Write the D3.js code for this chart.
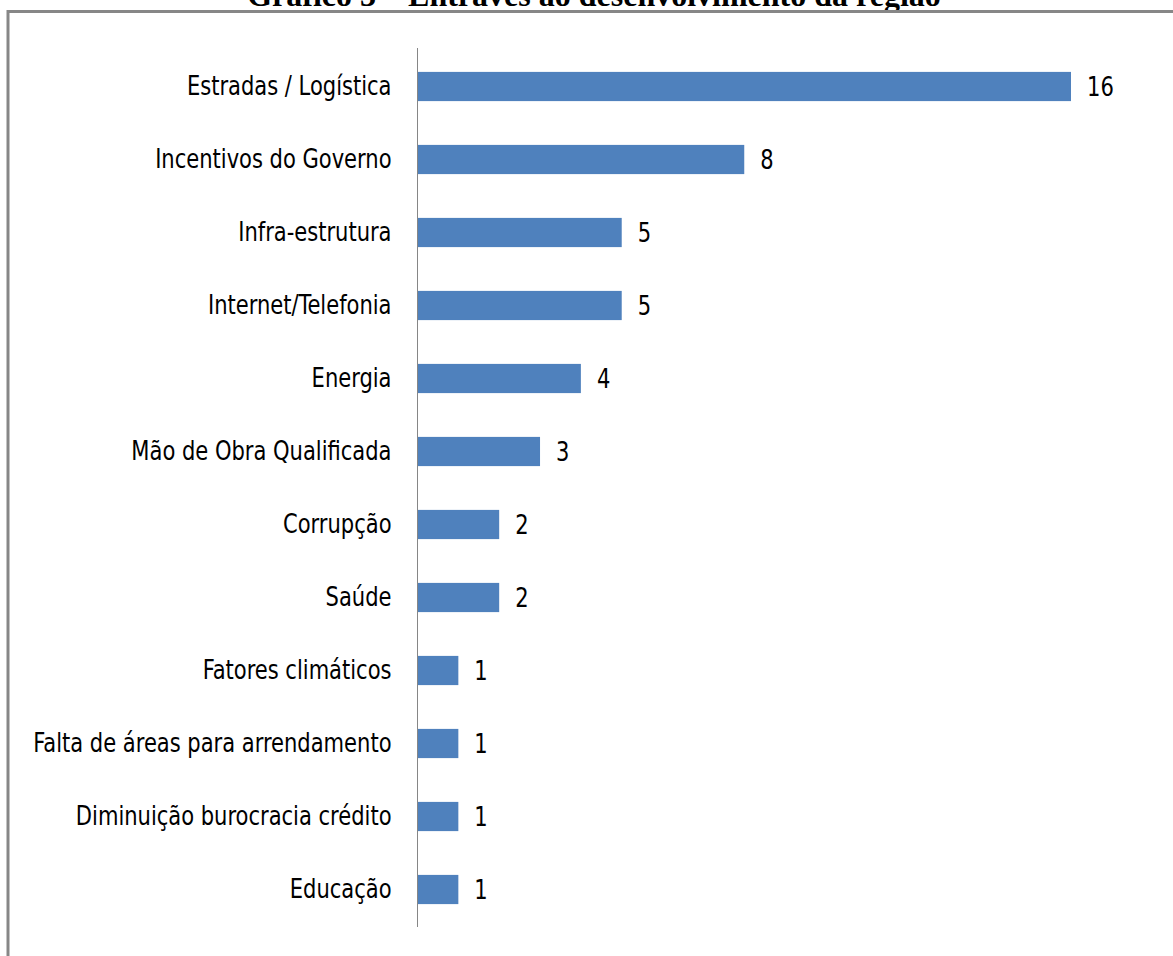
<!DOCTYPE html>
<html>
<head>
<meta charset="utf-8">
<script src="https://cdn.jsdelivr.net/npm/d3@7"></script>
<style>
  html, body { margin: 0; padding: 0; background: #fff; }
  svg { display: block; }
</style>
</head>
<body>
<svg id="chart" width="1173" height="956"></svg>
<script>
var categories = [
    "Estradas / Logística",
    "Incentivos do Governo",
    "Infra-estrutura",
    "Internet/Telefonia",
    "Energia",
    "Mão de Obra Qualificada",
    "Corrupção",
    "Saúde",
    "Fatores climáticos",
    "Falta de áreas para arrendamento",
    "Diminuição burocracia crédito",
    "Educação"
];
var values = [16, 8, 5, 5, 4, 3, 2, 2, 1, 1, 1, 1];
var title = "Gráfico 3 – Entraves ao desenvolvimento da região";

var svg = d3.select("#chart");
var labelFont = "'Liberation Sans Narrow', 'DejaVu Sans Condensed', 'Arial Narrow', sans-serif";
var squeeze = 0.9; // labels are drawn narrow in the original

// title, cut by the top of the page
svg.append("text")
    .attr("x", 594)
    .attr("y", 6)
    .attr("text-anchor", "middle")
    .style("font-family", "'Liberation Serif', 'Times New Roman', serif")
    .style("font-weight", "bold")
    .style("font-size", "32px")
    .text(title);

// chart frame (only top and left show)
svg.append("path")
    .attr("d", "M8,970 L8,11.5 L1190,11.5")
    .attr("fill", "none")
    .attr("stroke", "#878787")
    .attr("stroke-width", 3);

var data = categories.map(function(c, i){ return {name: c, value: values[i]}; });

var x = d3.scaleLinear()
    .domain([0, 16])
    .range([417.5, 1071]);

var y = d3.scaleBand()
    .domain(categories)
    .range([50, 926])
    .paddingInner(0.6)
    .paddingOuter(0.3);

svg.selectAll(".bar")
    .data(data)
    .enter()
    .append("rect")
    .attr("class", "bar")
    .attr("x", x(0))
    .attr("y", function(d){ return y(d.name); })
    .attr("width", function(d){ return x(d.value) - x(0); })
    .attr("height", y.bandwidth())
    .attr("fill", "#4f81bd");

// category axis
var yAxis = d3.axisLeft(y).tickSize(0).tickPadding(26);
var ga = svg.append("g")
    .attr("transform", "translate(" + x(0) + ",0)")
    .call(yAxis);
ga.select(".domain").remove();
ga.append("line")
    .attr("x1", 0).attr("x2", 0)
    .attr("y1", 48).attr("y2", 927)
    .attr("stroke", "#868686")
    .attr("stroke-width", 1);
ga.selectAll(".tick text")
    .attr("x", -26 / squeeze)
    .attr("transform", "scale(" + squeeze + ",1)")
    .style("font-family", labelFont)
    .style("font-size", "26px")
    .attr("fill", "#000");

// value labels
svg.selectAll(".val")
    .data(data)
    .enter()
    .append("text")
    .attr("class", "val")
    .attr("transform", function(d){
        return "translate(" + (x(d.value) + 16) + "," + (y(d.name) + y.bandwidth() / 2) + ") scale(" + squeeze + ",1)";
    })
    .attr("dy", "0.35em")
    .style("font-family", labelFont)
    .style("font-size", "26px")
    .text(function(d){ return d.value; });
</script>
</body>
</html>
